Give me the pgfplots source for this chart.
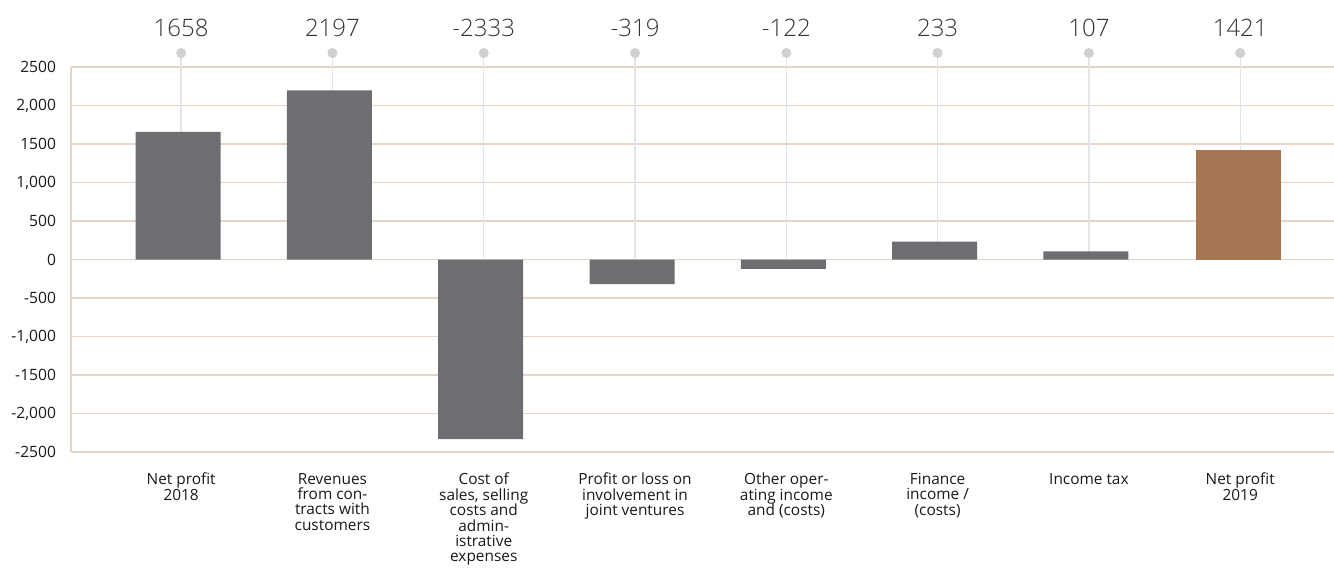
\documentclass[border=0pt]{standalone}
\usepackage{pgfplots}
\usepackage{pgfplotstable}
\pgfplotsset{compat=1.18}
\usepackage{fontspec}
\setmainfont{Open Sans}
\newfontfamily\lightfont{Open Sans Light}
\definecolor{barg}{HTML}{6D6E71}
\definecolor{barb}{HTML}{A57554}
\definecolor{gridc}{HTML}{E6D5C8}
\definecolor{vlinec}{HTML}{E4E4E4}
\definecolor{dotc}{HTML}{D1D1D4}
\definecolor{numc}{HTML}{333333}
\pgfplotstableread{
x v lab top
0 1658 1658 2682
1 2197 2197 2682
2 -2333 -2333 2682
3 -319 -319 2682
4 -122 -122 2682
5 233 233 2682
6 107 107 2682
7 1421 1421 2682
}\data
\begin{document}
\begin{tikzpicture}
\path[use as bounding box] (0,0) rectangle (667pt,284pt);
\begin{axis}[
  at={(35.5pt,58pt)}, anchor=south west,
  scale only axis, width=631.5pt, height=192.5pt,
  xmin=-0.728, xmax=7.62, ymin=-2500, ymax=2500,
  clip=false,
  axis line style={draw=none},
  ymajorgrids, grid style={gridc, line width=0.7pt},
  ytick={-2500,-2000,...,2500},
  yticklabels={-2500,{-2,000},-1500,{-1,000},-500,0,500,{1,000},1500,{2,000},2500},
  xtick={0,...,7},
  xticklabels={
    {Net profit\\2018},
    {Revenues\\from con-\\tracts with\\customers},
    {Cost of\\sales{,} selling\\costs and\\admin-\\istrative\\expenses},
    {Profit or loss on\\involvement in\\joint ventures},
    {Other oper-\\ating income\\and (costs)},
    {Finance\\income /\\(costs)},
    {Income tax},
    {Net profit\\2019}},
  major tick length=0pt,
  yticklabel style={font=\fontsize{7.8}{9}\selectfont, text=black!90, xshift=-4pt},
  xticklabel style={font=\fontsize{7.7}{7.7}\selectfont, text=black!90, align=center, anchor=north, yshift=-7pt},
]
\draw[gridc, line width=0.7pt] (rel axis cs:0,0) -- (rel axis cs:0,1);
\addplot[ycomb, vlinec, line width=0.7pt, mark=none] table[x=x, y=top] {\data};
\addplot[ybar, bar width=42.5pt, bar shift=-1.5pt, fill=barg, draw=none] table[x=x, y=v] {
x v
0 1658
1 2197
2 -2333
3 -319
4 -122
5 233
6 107
};
\addplot[ybar, bar width=42.5pt, bar shift=-1pt, fill=barb, draw=none] table[x=x, y=v] {
x v
7 1421
};
\addplot[only marks, mark=*, mark size=2.3pt, color=dotc,
  nodes near coords, point meta=explicit symbolic,
  every node near coord/.append style={font=\lightfont\fontsize{12}{14}\selectfont, text=numc, yshift=4.5pt}]
  table[x=x, y=top, meta=lab] {\data};
\end{axis}
\end{tikzpicture}
\end{document}
